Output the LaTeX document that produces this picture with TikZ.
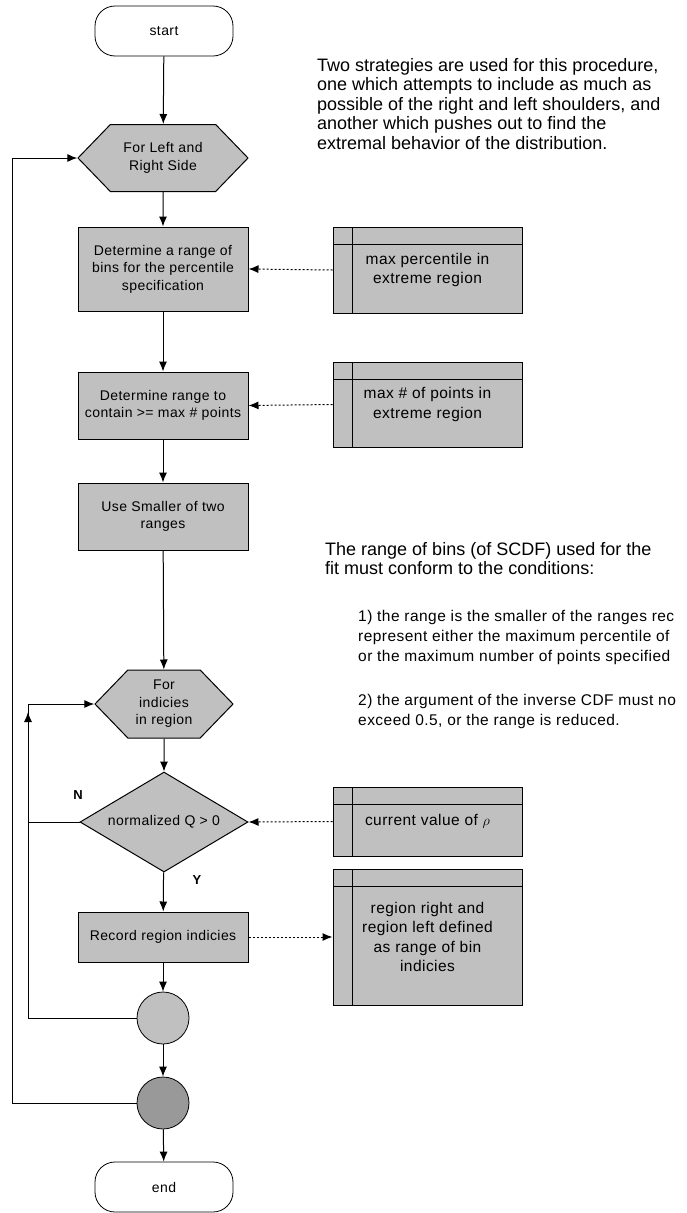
\documentclass[tikz,border=0pt]{standalone}
\usepackage{fontspec}
\setmainfont{Liberation Sans}
\newfontfamily\chartfont[LetterSpace=3]{Liberation Sans}
\usepackage{tikz}
\usetikzlibrary{shapes.geometric, shapes.symbols, arrows.meta}
\definecolor{boxgray}{HTML}{C0C0C0}
\definecolor{darkgray}{HTML}{999999}

\begin{document}
\begin{tikzpicture}[x=1pt, y=-1pt,
    every node/.style={inner sep=0pt, align=center, font=\chartfont\fontsize{14}{17.5}\selectfont},
    term/.style={draw, line width=0.8pt, rounded corners=20pt, minimum width=138pt, minimum height=50pt},
    proc/.style={draw, line width=1pt, fill=boxgray, minimum width=170pt},
    loophex/.style={draw, line width=1pt, fill=boxgray, signal, signal to=east and west, signal pointer angle=92},
    decide/.style={draw, line width=1pt, fill=boxgray, diamond, aspect=1.68, minimum width=168pt, minimum height=100pt},
    store/.style={draw, line width=1pt, fill=boxgray, minimum width=189pt, font=\chartfont\fontsize{15.5}{19.5}\selectfont,
        path picture={
            \draw[line width=1pt] ([xshift=19pt]path picture bounding box.north west) -- ([xshift=19pt]path picture bounding box.south west);
            \draw[line width=1pt] ([yshift=-17pt]path picture bounding box.north west) -- ([yshift=-17pt]path picture bounding box.north east);
        }},
    junct/.style={draw, line width=0.8pt, circle, minimum size=52pt},
    arr/.style={-{Latex[length=10pt, width=8pt]}, line width=1pt},
    dotarr/.style={arr, dash pattern=on 2pt off 2pt},
    note/.style={align=left, font=\fontsize{18}{19.5}\selectfont},
    cond/.style={align=left, font=\chartfont\fontsize{15.5}{20}\selectfont},
    yn/.style={font=\bfseries\fontsize{13}{13}\selectfont}
]
    \useasboundingbox (0,0) rectangle (687,1213);
    \fill[white] (0,0) rectangle (687,1213);

    % main column
    \node[term] (start) at (164,31) {start};
    \node[loophex, minimum width=170pt, minimum height=67pt] (sides) at (163,158) {For Left and\\Right Side};
    \node[proc, minimum height=84pt] (pctrange) at (163,269) {Determine a range of\\bins for the percentile\\specification};
    \node[proc, minimum height=67pt] (ptsrange) at (163,405.5) {Determine range to\\contain >= max \# points};
    \node[proc, minimum height=67pt] (smaller) at (163,516.5) {Use Smaller of two\\ranges};
    \node[loophex, minimum width=138pt, minimum height=68pt] (indices) at (164,704) {For\\indicies\\in region};
    \node[decide] (posq) at (164,822) {normalized Q > 0};
    \node[proc, minimum height=50pt] (record) at (163,937) {Record region indicies};
    \node[junct, fill=boxgray] (inend) at (163,1018) {};
    \node[junct, fill=darkgray] (outend) at (163,1103) {};
    \node[term] (finish) at (164,1187) {end};

    % data stores
    \node[store, minimum height=86pt] (maxpct) at (427.5,270) {max percentile in\\extreme region};
    \node[store, minimum height=85pt] (maxpts) at (427.5,404.5) {max \# of points in\\extreme region};
    \node[store, minimum height=69pt] (curq) at (427.5,821.5) {current value of $\rho$};
    \node[store, minimum height=136pt] (regdef) at (427.5,937) {region right and\\region left defined\\as range of bin\\indicies};

    % notes
    \node[note, anchor=north west] (strat) at (317,58) {Two strategies are used for this procedure,\\one which attempts to include as much as\\possible of the right and left shoulders, and\\another which pushes out to find the\\extremal behavior of the distribution.};
    \node[note, anchor=north west] (rangenote) at (325,542) {The range of bins (of SCDF) used for the\\fit must conform to the conditions:};
    \node[cond, anchor=north west] (cond1) at (358,610) {1) the range is the smaller of the ranges rec\\represent either the maximum percentile of\\or the maximum number of points specified};
    \node[cond, anchor=north west] (cond2) at (358,694) {2) the argument of the inverse CDF must no\\exceed 0.5, or the range is reduced.};

    % flow
    \draw[arr] (start) -- (sides);
    \draw[arr] (sides) -- (pctrange);
    \draw[arr] (pctrange) -- (ptsrange);
    \draw[arr] (ptsrange) -- (smaller);
    \draw[arr] (smaller) -- (indices);
    \draw[arr] (indices) -- (posq);
    \draw[arr] (posq) -- (record);
    \draw[arr] (record) -- (inend);
    \draw[arr] (inend) -- (outend);
    \draw[arr] (outend) -- (finish);
    \node[yn] (ylab) at (197,880) {Y};
    \node[yn] (nlab) at (78,795) {N};

    % loops
    \coordinate (innerup) at (28,712);
    \coordinate (outerx) at (12,1103);
    \draw[arr] (posq.west) -- (28,822) |- (indices.west);
    \draw[arr] (inend.west) -| (innerup);
    \draw[arr] (outend.west) -- (outerx) |- (sides.west);

    % data links
    \draw[dotarr] (maxpct.west) -- (pctrange.east);
    \draw[dotarr] (maxpts.west) -- (ptsrange.east);
    \draw[dotarr] (curq.west) -- (posq.east);
    \draw[dotarr] (record.east) -- (regdef.west);
\end{tikzpicture}
\end{document}
